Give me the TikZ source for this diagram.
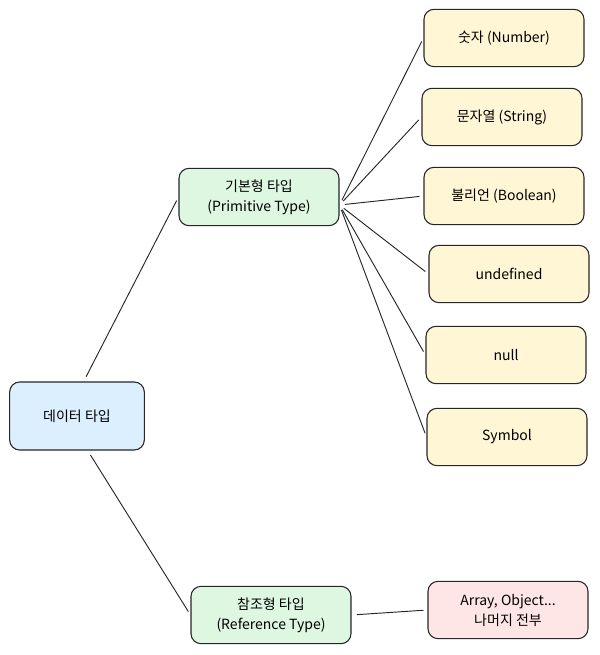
\documentclass[tikz,border=0pt]{standalone}
\usepackage{fontspec}
\setmainfont{Noto Sans CJK KR}
\usepackage{tikz}
\usetikzlibrary{shapes.geometric, arrows}
\definecolor{rootfill}{HTML}{DCEFFF}
\definecolor{groupfill}{HTML}{DDF7E0}
\definecolor{leaffill}{HTML}{FFF6D6}
\definecolor{otherfill}{HTML}{FFE6E6}
\tikzstyle{box} = [rectangle, rounded corners=7.5pt, minimum width=120pt, minimum height=43pt, text centered, align=center, draw=black!85, line width=0.8pt, font=\fontsize{10.5}{15}\selectfont]
\tikzstyle{root} = [box, minimum width=101pt, minimum height=51pt, fill=rootfill]
\tikzstyle{group} = [box, fill=groupfill]
\tikzstyle{leaf} = [box, fill=leaffill]
\tikzstyle{other} = [box, fill=otherfill]
\tikzstyle{link} = [line width=0.7pt, black!85, shorten <=4pt, shorten >=3pt]

\begin{document}
\begin{tikzpicture}[x=0.75pt, y=-0.75pt]
    \useasboundingbox (0,0) rectangle (599,655);
    \node (data) [root] at (77,416) {데이터 타입};
    \node (prim) [group] at (259,197) {기본형 타입\\(Primitive Type)};
    \node (refer) [group] at (271,615) {참조형 타입\\(Reference Type)};
    \node (number) [leaf] at (504,38) {숫자 (Number)};
    \node (string) [leaf] at (502,117) {문자열 (String)};
    \node (bool) [leaf] at (504,196) {불리언 (Boolean)};
    \node (undef) [leaf] at (509,274) {undefined};
    \node (null) [leaf] at (506,355) {null};
    \node (symbol) [leaf] at (507,437) {Symbol};
    \node (etc) [other] at (508,610) {Array, Object...\\나머지 전부};

    \coordinate (fan) at ([yshift=-6pt]prim.east);
    \draw [link] (data.north) ++(5pt,0) coordinate (dtop) (dtop) -- (prim.west);
    \draw [link] (data.south) ++(8pt,0) coordinate (dbot) (dbot) -- (refer.west);
    \draw [link] (fan) -- (number.west);
    \draw [link] (fan) -- (string.west);
    \draw [link] (fan) -- (bool.west);
    \draw [link] (fan) -- (undef.west);
    \draw [link] (fan) -- (null.west);
    \draw [link] (fan) -- (symbol.west);
    \draw [link] (refer.east) -- (etc.west);
  \end{tikzpicture}
\end{document}
